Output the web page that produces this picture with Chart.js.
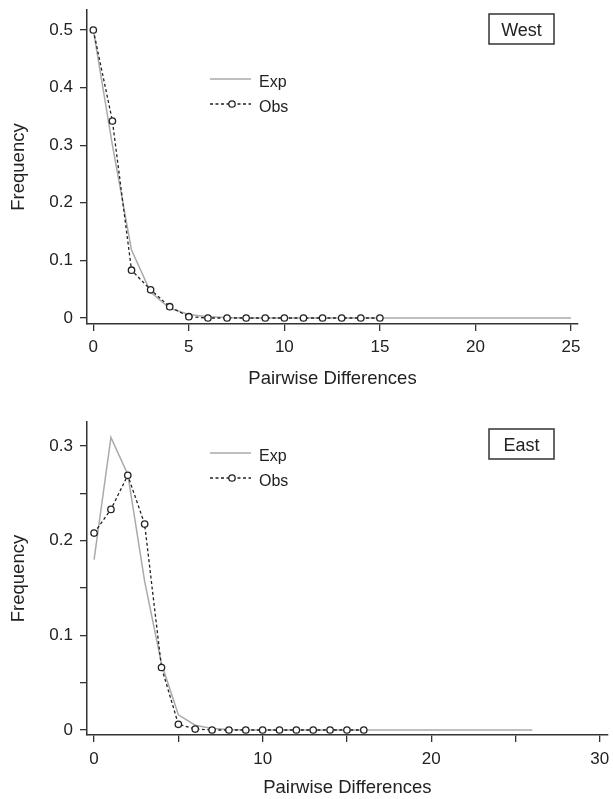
<!DOCTYPE html>
<html>
<head>
<meta charset="utf-8">
<script src="https://cdn.jsdelivr.net/npm/chart.js@4.4.1/dist/chart.umd.min.js"></script>
<style>
html, body { margin: 0; padding: 0; background: #fff; }
#wrap { position: relative; width: 613px; height: 799px; }
canvas { position: absolute; left: 0; }
</style>
</head>
<body>
<div id="wrap">
<canvas id="west" width="613" height="400" style="top:0;width:613px;height:400px"></canvas>
<canvas id="east" width="613" height="399" style="top:400px;width:613px;height:399px"></canvas>
</div>
<script>
// West panel
const westObsX = [0, 1, 2, 3, 4, 5, 6, 7, 8, 9, 10, 11, 12, 13, 14, 15];
const westObs = [0.5, 0.342, 0.083, 0.049, 0.0196, 0.0023, 0, 0, 0, 0, 0, 0, 0, 0, 0, 0];
const westExpX = [0, 1, 2, 3, 4, 5, 6, 7, 8, 9, 10, 11, 12, 13, 14, 15, 16, 17, 18, 19, 20, 21, 22, 23, 24, 25];
const westExp = [0.5, 0.30, 0.118, 0.045, 0.017, 0.006, 0.002, 0.0007, 0.0002, 0, 0, 0, 0, 0, 0, 0, 0, 0, 0, 0, 0, 0, 0, 0, 0, 0];
const westXTicks = [0, 5, 10, 15, 20, 25];
const westXLabels = ["0", "5", "10", "15", "20", "25"];
const westYTicks = [0, 0.1, 0.2, 0.3, 0.4, 0.5];
const westYLabels = ["0", "0.1", "0.2", "0.3", "0.4", "0.5"];

// East panel
const eastObsX = [0, 1, 2, 3, 4, 5, 6, 7, 8, 9, 10, 11, 12, 13, 14, 15, 16];
const eastObs = [0.208, 0.233, 0.269, 0.2175, 0.066, 0.006, 0.001, 0, 0, 0, 0, 0, 0, 0, 0, 0, 0];
const eastExpX = [0, 1, 2, 3, 4, 5, 6, 7, 8, 9, 10, 11, 12, 13, 14, 15, 16, 17, 18, 19, 20, 21, 22, 23, 24, 25, 26];
const eastExp = [0.18, 0.309, 0.27, 0.157, 0.07, 0.016, 0.005, 0.0015, 0.0004, 0, 0, 0, 0, 0, 0, 0, 0, 0, 0, 0, 0, 0, 0, 0, 0, 0, 0];
const eastXTicks = [0, 5, 10, 15, 20, 25, 30];
const eastXLabels = ["0", "", "10", "", "20", "", "30"];
const eastYTicks = [0, 0.05, 0.1, 0.15, 0.2, 0.25, 0.3];
const eastYLabels = ["0", "", "0.1", "", "0.2", "", "0.3"];

const FONT = "'Liberation Sans', Arial, Helvetica, sans-serif";
const INK = "#222";
const AXIS = "#333";
const EXP_COLOR = "#aaaaaa";

function toPoints(xs, ys) {
	return xs.map((x, i) => ({ x: x, y: ys[i] }));
}

// legend and panel name box, drawn on top of the plot
const decorPlugin = {
	id: "decor",
	afterDraw(chart, args, opts) {
		const ctx = chart.ctx;
		ctx.save();
		const x0 = 210, x1 = 251;
		// Exp entry
		ctx.strokeStyle = EXP_COLOR;
		ctx.lineWidth = 1.5;
		ctx.setLineDash([]);
		ctx.beginPath();
		ctx.moveTo(x0, opts.expY);
		ctx.lineTo(x1, opts.expY);
		ctx.stroke();
		// Obs entry
		ctx.strokeStyle = INK;
		ctx.lineWidth = 1.3;
		ctx.setLineDash([3, 2.5]);
		ctx.beginPath();
		ctx.moveTo(x0, opts.obsY);
		ctx.lineTo(x1, opts.obsY);
		ctx.stroke();
		ctx.setLineDash([]);
		ctx.fillStyle = "#fff";
		ctx.beginPath();
		ctx.arc(232, opts.obsY, 3.2, 0, Math.PI * 2);
		ctx.fill();
		ctx.stroke();
		ctx.fillStyle = INK;
		ctx.font = "16px " + FONT;
		ctx.textAlign = "left";
		ctx.textBaseline = "alphabetic";
		ctx.fillText("Exp", 259, opts.expY + 7.5);
		ctx.fillText("Obs", 259, opts.obsY + 7.5);
		// name box
		ctx.strokeStyle = AXIS;
		ctx.lineWidth = 1.5;
		ctx.strokeRect(489, opts.boxTop, 65, 30);
		ctx.font = "18px " + FONT;
		ctx.textAlign = "center";
		ctx.fillText(opts.name, 521.5, opts.boxTop + 22);
		ctx.restore();
	}
};

function makePanel(id, p) {
	const ctx = document.getElementById(id).getContext("2d");
	return new Chart(ctx, {
		type: "line",
		data: {
			datasets: [
				{
					label: "Obs",
					data: toPoints(p.obsX, p.obs),
					borderColor: INK,
					borderWidth: 1.3,
					borderDash: [3, 2.5],
					pointRadius: 3.2,
					pointBorderWidth: 1.3,
					pointBorderColor: INK,
					pointBackgroundColor: "#fff",
					tension: 0,
					fill: false,
					clip: false,
					order: 0
				},
				{
					label: "Exp",
					data: toPoints(p.expX, p.exp),
					borderColor: EXP_COLOR,
					borderWidth: 1.5,
					pointRadius: 0,
					tension: 0,
					fill: false,
					clip: false,
					order: 1
				}
			]
		},
		options: {
			responsive: false,
			animation: false,
			events: [],
			layout: { padding: { left: 0, right: p.padRight, top: p.padTop, bottom: 0 } },
			plugins: {
				legend: { display: false },
				tooltip: { enabled: false },
				decor: p.decor
			},
			scales: {
				x: {
					type: "linear",
					min: p.xMin,
					max: p.xMax,
					afterBuildTicks: s => { s.ticks = p.xTicks.map(v => ({ value: v })); },
					afterFit: s => { s.height = p.xHeight; s.paddingLeft = 0; s.paddingRight = 0; },
					ticks: {
						autoSkip: false,
						maxRotation: 0,
						padding: p.xPad,
						color: INK,
						font: { family: FONT, size: 17 },
						callback: (v, i) => p.xLabels[i]
					},
					grid: { drawOnChartArea: false, drawTicks: true, tickLength: 7, color: AXIS, lineWidth: 1.3 },
					border: { display: true, color: AXIS, width: 1.5 },
					title: {
						display: true,
						text: "Pairwise Differences",
						color: INK,
						font: { family: FONT, size: 18.5 },
						padding: { top: 0, bottom: p.xTitlePad }
					}
				},
				y: {
					type: "linear",
					min: p.yMin,
					max: p.yMax,
					afterBuildTicks: s => { s.ticks = p.yTicks.map(v => ({ value: v })); },
					afterFit: s => { s.width = 87; s.paddingTop = 0; s.paddingBottom = 0; },
					ticks: {
						autoSkip: false,
						padding: 7,
						color: INK,
						font: { family: FONT, size: 17 },
						callback: (v, i) => p.yLabels[i]
					},
					grid: { drawOnChartArea: false, drawTicks: true, tickLength: 7, color: AXIS, lineWidth: 1.3 },
					border: { display: true, color: AXIS, width: 1.5 },
					title: {
						display: true,
						text: "Frequency",
						color: INK,
						font: { family: FONT, size: 18.5 },
						padding: { top: 7.5, bottom: 0 }
					}
				}
			}
		},
		plugins: [decorPlugin]
	});
}

makePanel("west", {
	obsX: westObsX, obs: westObs, expX: westExpX, exp: westExp,
	xTicks: westXTicks, xLabels: westXLabels, yTicks: westYTicks, yLabels: westYLabels,
	xMin: -0.33, xMax: 25.37, yMin: -0.0104, yMax: 0.5347,
	padRight: 35, padTop: 10, xHeight: 76, xPad: 6.5, xTitlePad: 10.3,
	decor: { name: "West", boxTop: 14, expY: 79, obsY: 104 }
});

makePanel("east", {
	obsX: eastObsX, obs: eastObs, expX: eastExpX, exp: eastExp,
	xTicks: eastXTicks, xLabels: eastXLabels, yTicks: eastYTicks, yLabels: eastYLabels,
	xMin: -0.42, xMax: 30.47, yMin: -0.0053, yMax: 0.3253,
	padRight: 3, padTop: 22, xHeight: 64, xPad: 7, xTitlePad: 0,
	decor: { name: "East", boxTop: 29, expY: 53, obsY: 78 }
});
</script>
</body>
</html>
